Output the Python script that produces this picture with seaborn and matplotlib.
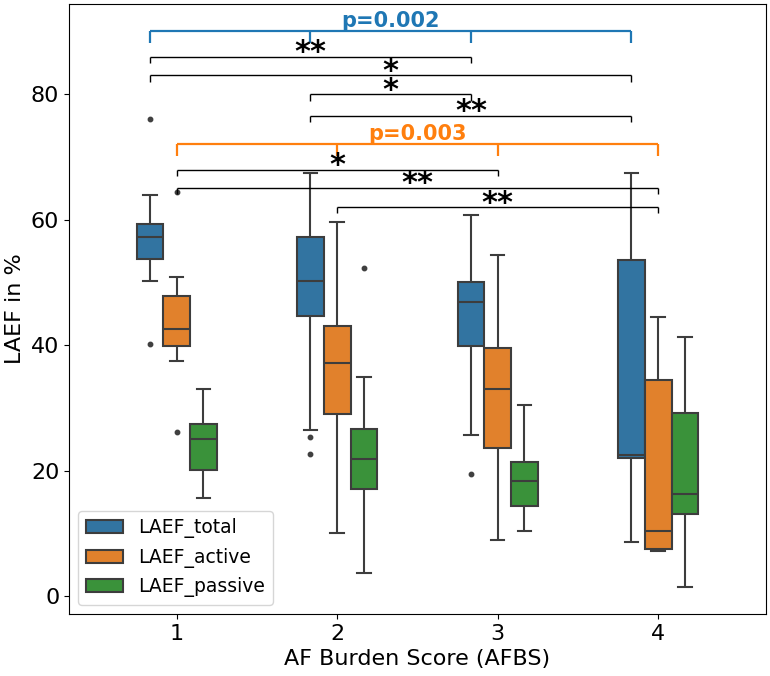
import matplotlib
matplotlib.use("Agg")
import matplotlib.pyplot as plt
import numpy as np
import pandas as pd
import seaborn as sns

# ---- data (individual values) ----
afbs_levels = ["1", "2", "3", "4"]
measures = ["LAEF_total", "LAEF_active", "LAEF_passive"]

total_1 = [40.2, 50.3, 53.8, 55.5, 57.2, 58.2, 59.3, 64.0, 76.1]
total_2 = [22.7, 25.3, 26.4, 44.6, 46.0, 48.5, 50.3, 53.0, 55.5, 57.3, 60.0, 63.5, 67.4]
total_3 = [19.5, 25.7, 39.9, 44.0, 46.9, 48.5, 50.1, 55.0, 60.8]
total_4 = [8.6, 15.0, 22.0, 22.3, 22.5, 35.0, 53.6, 60.0, 67.5]

active_1 = [26.1, 37.5, 39.8, 41.0, 42.6, 45.0, 47.8, 50.9, 64.4]
active_2 = [10.1, 20.0, 29.1, 33.0, 37.1, 40.0, 43.1, 50.0, 59.6]
active_3 = [8.9, 16.0, 23.6, 28.0, 33.0, 36.0, 39.5, 47.0, 54.4]
active_4 = [7.1, 7.3, 7.5, 9.0, 10.4, 22.0, 34.4, 40.0, 44.5]

passive_1 = [15.6, 18.0, 20.1, 23.0, 25.1, 26.5, 27.5, 30.0, 33.0]
passive_2 = [3.6, 10.0, 17.1, 20.0, 21.9, 24.5, 26.7, 34.9, 52.3]
passive_3 = [10.3, 12.5, 14.4, 16.5, 18.4, 20.0, 21.4, 26.0, 30.4]
passive_4 = [1.5, 7.0, 13.0, 14.5, 16.2, 23.0, 29.2, 35.0, 41.3]

series = {
    "LAEF_total": [total_1, total_2, total_3, total_4],
    "LAEF_active": [active_1, active_2, active_3, active_4],
    "LAEF_passive": [passive_1, passive_2, passive_3, passive_4],
}

rows = []
for m in measures:
    for lvl, vals in zip(afbs_levels, series[m]):
        for v in vals:
            rows.append({"AFBS": lvl, "Measure": m, "LAEF": v})
df = pd.DataFrame(rows)

# ---- figure ----
fig = plt.figure(figsize=(7.7, 6.76), dpi=100)
ax = fig.add_axes([69 / 770, 1 - 614 / 676, (766 - 69) / 770, (614 - 4) / 676])

box_width = 0.5
sns.boxplot(data=df, x="AFBS", y="LAEF", hue="Measure", order=afbs_levels,
            hue_order=measures, width=box_width, linewidth=1.5, ax=ax,
            flierprops=dict(marker="o", markersize=3.2,
                            markerfacecolor="0.25", markeredgecolor="0.25"))

ax.set_xlim(-0.671, 3.672)
ax.set_ylim(-2.87, 94.4)
ax.set_yticks([0, 20, 40, 60, 80])
ax.tick_params(labelsize=16)
ax.set_xlabel("AF Burden Score (AFBS)", fontsize=16)
ax.set_ylabel("LAEF in %", fontsize=16)

leg = ax.legend(loc="lower left", fontsize=13.5)

# ---- significance brackets ----
slot = box_width / len(measures)
hue_off = {m: (i - 1) * slot for i, m in enumerate(measures)}


def xpos(cat, m):
    return afbs_levels.index(cat) + hue_off[m]


def bracket(xs, y, depth, color, lw):
    ax.plot([xs[0], xs[-1]], [y, y], color=color, lw=lw, solid_capstyle="butt")
    for x in xs:
        ax.plot([x, x], [y, y - depth], color=color, lw=lw, solid_capstyle="butt")


# group brackets
group_specs = [
    ("LAEF_total", 90.1, "p=0.002", "#1f77b4"),
    ("LAEF_active", 72.1, "p=0.003", "#ff7f0e"),
]
for m, y, label, col in group_specs:
    xs = [xpos(c, m) for c in afbs_levels]
    bracket(xs, y, 1.9, col, 1.6)
    ax.text((xs[0] + xs[-1]) / 2, y, label, color=col, fontsize=15,
            fontweight="bold", ha="center", va="bottom")

# pairwise brackets
pair_specs = [
    ("LAEF_total", "1", "3", 86.0, "**"),
    ("LAEF_total", "1", "4", 83.0, "*"),
    ("LAEF_total", "2", "3", 80.0, "*"),
    ("LAEF_total", "2", "4", 76.6, "**"),
    ("LAEF_active", "1", "3", 68.0, "*"),
    ("LAEF_active", "1", "4", 65.1, "**"),
    ("LAEF_active", "2", "4", 62.0, "**"),
]
for m, a, b, y, label in pair_specs:
    xs = [xpos(a, m), xpos(b, m)]
    bracket(xs, y, 1.0, "black", 1.0)
    ax.text((xs[0] + xs[1]) / 2, y - 0.7, label, color="black", fontsize=22,
            fontweight="bold", ha="center", va="baseline")

fig.savefig("out.png", dpi=100)
